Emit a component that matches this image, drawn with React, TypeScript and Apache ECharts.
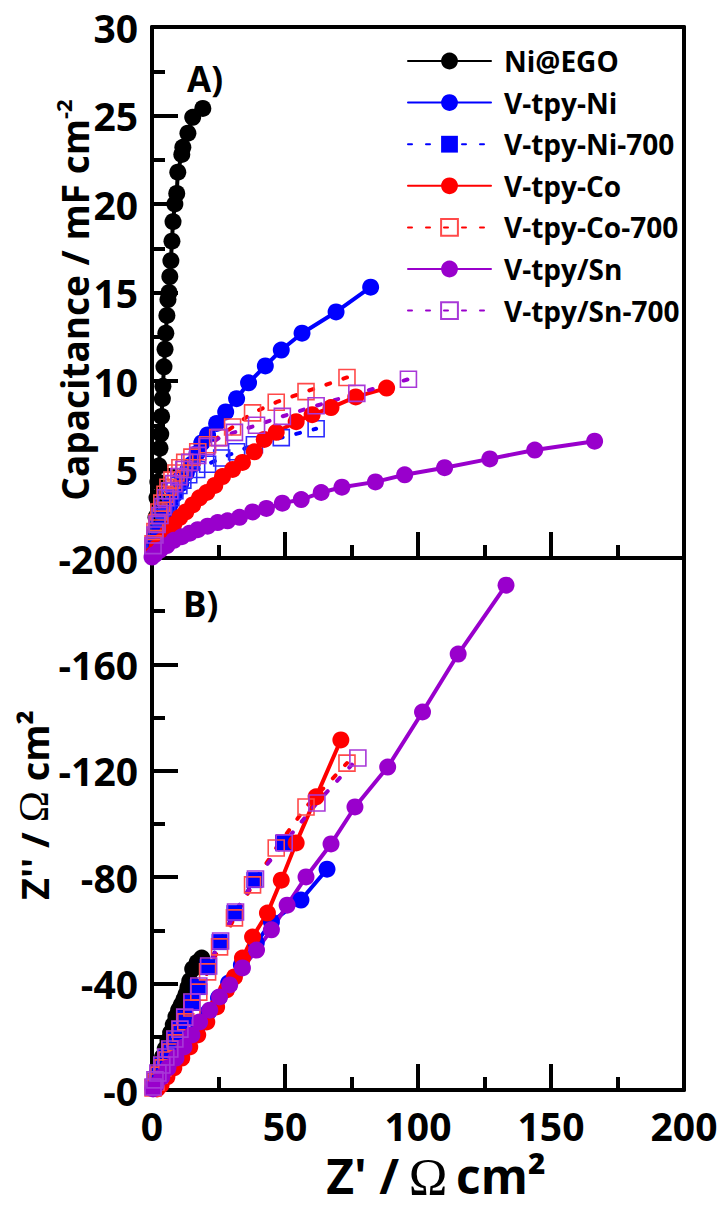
import React, { useEffect, useRef } from "react";
import * as echarts from "echarts";

// ---------- axes ----------
const zPrimeTicks = [0, 50, 100, 150, 200];
const capTicks = [0, 5, 10, 15, 20, 25, 30];
const zImagTicks = [-200, -160, -120, -80, -40, 0];

// ---------- series names ----------
const seriesNames = [
  "Ni@EGO",
  "V-tpy-Ni",
  "V-tpy-Ni-700",
  "V-tpy-Co",
  "V-tpy-Co-700",
  "V-tpy/Sn",
  "V-tpy/Sn-700",
];

// ---------- panel A: capacitance (x = Z', y = mF cm-2) ----------
const niEgoCap = [[0.4,0.6],[1.0,1.4],[1.5,2.3],[1.9,3.4],[2.2,4.3],[2.6,5.2],[3.0,6.2],[3.3,7.0],[3.6,8.0],[3.9,9.0],[4.1,9.7],[4.5,10.8],[4.9,11.8],[5.2,12.7],[5.6,13.7],[6.0,14.6],[6.4,15.0],[6.7,15.9],[7.1,16.8],[7.5,17.9],[7.9,19.0],[8.6,20.0],[9.3,20.6],[9.7,21.8],[11.2,22.8],[11.6,23.2],[13.5,24.0],[15.3,24.9],[19.1,25.4]];
const vtpyNiCap = [[0.4,0.4],[1.5,1.0],[3.0,1.7],[4.9,2.4],[6.7,3.0],[8.6,3.6],[10.8,4.2],[12.9,4.8],[15.0,5.3],[16.9,5.9],[18.7,6.5],[20.9,6.95],[24.3,7.6],[27.7,8.25],[31.8,9.0],[36.3,9.9],[42.6,10.85],[48.6,11.75],[56.4,12.7],[69.2,13.9],[82.2,15.3]];
const vtpyNi700Cap = [[0.4,0.6],[1.1,1.0],[1.9,1.5],[2.6,1.9],[3.4,2.3],[4.5,2.7],[5.6,3.1],[7.1,3.4],[8.6,3.8],[10.1,4.1],[11.6,4.4],[13.8,4.7],[16.8,5.0],[20.9,5.3],[26.2,5.65],[31.8,6.0],[38.5,6.4],[48.6,6.8],[61.7,7.3]];
const vtpyCoCap = [[0.4,0.2],[1.9,0.6],[4.1,1.0],[6.0,1.5],[8.2,1.9],[10.5,2.3],[12.7,2.6],[15.3,3.0],[17.9,3.4],[20.6,3.7],[23.6,4.1],[26.5,4.6],[30.3,5.0],[34.0,5.4],[38.5,6.0],[42.2,6.7],[46.7,7.1],[54.2,7.7],[60.2,8.1],[67.3,8.5],[76.6,9.1],[88.2,9.6]];
const vtpyCo700Cap = [[0.4,0.8],[1.1,1.5],[1.9,2.0],[2.6,2.6],[3.7,3.1],[4.9,3.6],[6.0,4.0],[7.5,4.4],[9.0,4.8],[10.5,5.1],[12.3,5.4],[15.0,5.7],[17.2,6.0],[20.9,6.4],[24.7,6.8],[30.3,7.4],[37.8,8.2],[46.7,8.8],[57.9,9.4],[73.3,10.2]];
const vtpySnCap = [[0.0,0.05],[1.1,0.2],[3.0,0.45],[5.6,0.7],[8.2,1.0],[11.2,1.2],[14.2,1.4],[17.2,1.6],[20.9,1.8],[24.7,2.0],[28.4,2.1],[32.9,2.3],[37.8,2.6],[43.0,2.8],[49.0,3.1],[56.1,3.3],[63.6,3.7],[71.4,4.0],[84.0,4.3],[95.0,4.7],[110.0,5.1],[127.0,5.6],[143.9,6.1],[166.4,6.6]];
const vtpySn700Cap = [[0.4,0.7],[1.1,1.3],[1.9,1.9],[3.0,2.4],[4.1,2.9],[5.2,3.4],[6.7,3.8],[8.2,4.2],[10.1,4.6],[12.0,5.0],[14.2,5.4],[17.2,5.8],[20.6,6.3],[25.4,6.8],[31.0,7.1],[39.3,7.5],[49.0,8.0],[61.7,8.6],[77.0,9.3],[96.4,10.1]];

// ---------- panel B: Nyquist (x = Z', y = Z'') ----------
const niEgoNyq = [[0.5,-1.5],[1.2,-4],[2.0,-6.5],[3.0,-9.5],[4.0,-12.5],[5.0,-15.5],[6.0,-18.5],[7.0,-21.5],[8.0,-24.5],[9.0,-27.5],[10.0,-30],[11.0,-32],[12.0,-34],[12.8,-36],[13.5,-38.5],[14.2,-41],[15.3,-45.5],[17.0,-48],[18.7,-49.6]];
const vtpyNiNyq = [[0.4,-0.8],[1.5,-2.6],[3.4,-5.3],[6.0,-8.6],[8.6,-12],[11.6,-15.8],[14.6,-19.9],[17.6,-24.4],[21.2,-29.3],[25.0,-34.6],[28.8,-40.2],[33.6,-47],[39.2,-55.3],[44.9,-63.2],[56.0,-71.4],[65.8,-83]];
const vtpyNi700Nyq = [[0.4,-1.1],[1.1,-3.4],[2.2,-6],[3.7,-9],[5.2,-12],[6.7,-15],[8.6,-18.8],[10.5,-22.6],[12.3,-27],[15.0,-32.7],[17.2,-38.7],[20.9,-46.2],[25.4,-55.6],[31.0,-66.5],[38.5,-78.9],[49.3,-92.9]];
const vtpyCoNyq = [[1.9,-0.4],[3.4,-1.9],[5.6,-4.9],[8.2,-8.3],[11.2,-12],[14.2,-16.2],[17.2,-20.7],[20.6,-25.6],[24.3,-31.2],[28.0,-37.6],[31.0,-42.5],[34.0,-49.6],[37.8,-57.5],[43.4,-66.5],[48.6,-78.9],[54.2,-92.9],[61.7,-110.2],[71.0,-131.6]];
const vtpyCo700Nyq = [[0.4,-0.8],[1.5,-3],[2.6,-5.6],[4.1,-8.3],[5.6,-11.3],[7.1,-14.3],[9.0,-17.7],[10.8,-21.4],[12.7,-25.6],[15.0,-30.8],[17.6,-36.8],[20.9,-44.4],[25.4,-53.8],[31.0,-64.7],[37.8,-77.1],[46.7,-91],[57.9,-106.4],[73.3,-122.9]];
const vtpySnNyq = [[0.4,-0.4],[1.5,-1.9],[3.7,-4.9],[6.0,-8.3],[9.0,-12],[12.0,-16.2],[15.0,-20.7],[17.9,-25.6],[21.7,-30],[25.4,-35],[29.2,-39.5],[34.0,-45.9],[39.3,-52.6],[44.9,-60.2],[50.8,-69.5],[57.9,-80.1],[67.3,-92.5],[76.3,-106.4],[88.6,-121.4],[101.7,-142.1],[115.1,-163.9],[133.1,-189.8]];
const vtpySn700Nyq = [[0.4,-1.1],[1.1,-3.8],[2.2,-6.4],[3.7,-9.4],[5.2,-12.4],[6.7,-15.4],[8.6,-19.2],[10.5,-22.9],[12.3,-27.4],[15.0,-33.1],[17.6,-39.1],[21.3,-46.6],[25.8,-56],[31.4,-66.9],[38.9,-79.3],[49.7,-92.9],[62.0,-107.9],[77.4,-124.8]];

const capData = [niEgoCap, vtpyNiCap, vtpyNi700Cap, vtpyCoCap, vtpyCo700Cap, vtpySnCap, vtpySn700Cap];
const nyqData = [niEgoNyq, vtpyNiNyq, vtpyNi700Nyq, vtpyCoNyq, vtpyCo700Nyq, vtpySnNyq, vtpySn700Nyq];

// ---------- styles ----------
const FONT = "'Open Sans', 'Liberation Sans', sans-serif";
const SERIF = "'Liberation Serif', 'DejaVu Serif', serif";
const lineColors = ["#000000", "#0000ff", "#0000ff", "#ff0000", "#ff0000", "#9900cc", "#9900cc"];
const borderColors = ["#000000", "#0000ff", "#2a2aff", "#ff4a4a", "#ff4a4a", "#a838d8", "#a838d8"];
const dashed = [false, false, true, false, true, false, true];
const symbols = ["circle", "circle", "rect", "circle", "rect", "circle", "rect"];
// hollow markers: [panel B, panel A]
const hollowB = [false, false, false, false, true, false, true];
const hollowA = [false, false, true, false, true, false, true];

function makeSeries(i: number, grid: number, data: number[][], hollow: boolean) {
  return {
    type: "line",
    name: seriesNames[i],
    xAxisIndex: grid,
    yAxisIndex: grid,
    data,
    symbol: symbols[i],
    symbolSize: symbols[i] === "rect" ? 16 : 17,
    showSymbol: true,
    clip: false,
    lineStyle: {
      color: lineColors[i],
      width: 4,
      type: dashed[i] ? [4, 14] : "solid",
      cap: "round",
    },
    itemStyle: hollow
      ? { color: "rgba(255,255,255,0)", borderColor: borderColors[i], borderWidth: 1.6 }
      : { color: lineColors[i], borderWidth: 0 },
    emphasis: { disabled: true },
  };
}

const axisLine = { show: true, onZero: false, lineStyle: { color: "#000", width: 4 } };
const tick = { show: true, inside: true, length: 26, lineStyle: { color: "#000", width: 4 } };
const minor = { show: true, splitNumber: 2, length: 13, lineStyle: { color: "#000", width: 4 } };
const tickLabel = { fontFamily: FONT, fontWeight: "bold", fontSize: 39, color: "#000" };

function txt(x: number, y: number, text: string, size: number, align: string, serif = false) {
  return {
    type: "text", x, y,
    style: {
      text, fontFamily: serif ? SERIF : FONT, fontWeight: serif ? "normal" : "bold",
      fontSize: size, fill: "#000", align, verticalAlign: "middle",
    },
  };
}

export default function App() {
  const ref = useRef<HTMLDivElement>(null);
  useEffect(() => {
    const chart = echarts.init(ref.current!, null, { renderer: "svg" });
    const xMin = zPrimeTicks[0];
    const xMax = zPrimeTicks[zPrimeTicks.length - 1];
    const xStep = zPrimeTicks[1] - zPrimeTicks[0];
    const option: any = {
      animation: false,
      backgroundColor: "#ffffff",
      grid: [
        { left: 152, top: 27, width: 532, height: 531 },
        { left: 152, top: 558, width: 532, height: 532 },
      ],
      xAxis: [
        {
          gridIndex: 0, type: "value", position: "bottom", min: xMin, max: xMax, interval: xStep,
          axisLine, axisTick: tick, minorTick: minor, axisLabel: { show: false }, splitLine: { show: false },
        },
        {
          gridIndex: 1, type: "value", position: "bottom", min: xMin, max: xMax, interval: xStep,
          axisLine, axisTick: tick, minorTick: minor,
          axisLabel: { ...tickLabel, margin: 16 }, splitLine: { show: false },
        },
        {
          gridIndex: 0, type: "value", position: "top", min: 0, max: 1,
          axisLine, axisTick: { show: false }, axisLabel: { show: false }, splitLine: { show: false },
        },
        {
          gridIndex: 1, type: "value", position: "top", min: 0, max: 1,
          axisLine: { show: true, onZero: false, lineStyle: { color: "#999", width: 1 } },
          axisTick: { show: false }, axisLabel: { show: false }, splitLine: { show: false }, z: -1,
        },
      ],
      yAxis: [
        {
          gridIndex: 0, type: "value", position: "left",
          min: capTicks[0], max: capTicks[capTicks.length - 1], interval: capTicks[1] - capTicks[0],
          axisLine, axisTick: tick, minorTick: minor, splitLine: { show: false },
          axisLabel: { ...tickLabel, margin: 14, formatter: (v: number) => (v === 0 ? "" : String(v)) },
        },
        {
          gridIndex: 1, type: "value", position: "left", inverse: true,
          min: zImagTicks[0], max: zImagTicks[zImagTicks.length - 1], interval: zImagTicks[1] - zImagTicks[0],
          axisLine, axisTick: tick, minorTick: minor, splitLine: { show: false },
          axisLabel: { ...tickLabel, margin: 14, formatter: (v: number) => (v === 0 ? "-0" : String(v)) },
        },
        {
          gridIndex: 0, type: "value", position: "right", min: 0, max: 1,
          axisLine, axisTick: { show: false }, axisLabel: { show: false }, splitLine: { show: false },
        },
        {
          gridIndex: 1, type: "value", position: "right", min: 0, max: 1,
          axisLine, axisTick: { show: false }, axisLabel: { show: false }, splitLine: { show: false },
        },
      ],
      legend: {
        data: seriesNames,
        orient: "vertical",
        left: 407,
        top: 46,
        padding: 0,
        itemWidth: 83,
        itemHeight: 21,
        itemGap: 11.6,
        selectedMode: false,
        textStyle: {
          fontFamily: FONT, fontWeight: "bold", fontSize: 28, color: "#000",
          lineHeight: 30, padding: [0, 0, 0, 8],
        },
      },
      graphic: [
        txt(187, 78, "A)", 35, "left"),
        txt(183, 603, "B)", 35, "left"),
        {
          type: "text", x: 74, y: 300, rotation: Math.PI / 2,
          style: {
            text: "{a|Capacitance / mF cm}{s|-2}",
            align: "center", verticalAlign: "middle",
            rich: {
              a: { fontFamily: FONT, fontWeight: "bold", fontSize: 37, fill: "#000", lineHeight: 44 },
              s: { fontFamily: FONT, fontWeight: "bold", fontSize: 22, fill: "#000", lineHeight: 26, verticalAlign: "top" },
            },
          },
        },
        {
          type: "text", x: 34, y: 805, rotation: Math.PI / 2,
          style: {
            text: "{a|Z'' / }{o|Ω}{a| cm²}",
            align: "center", verticalAlign: "middle",
            rich: {
              a: { fontFamily: FONT, fontWeight: "bold", fontSize: 38, fill: "#000", lineHeight: 44 },
              o: { fontFamily: SERIF, fontWeight: "normal", fontSize: 42, fill: "#000", lineHeight: 44 },
            },
          },
        },
        txt(399, 1175, "Z' /", 48, "right"),
        txt(428, 1177, "Ω", 52, "center", true),
        txt(456, 1175, "cm²", 48, "left"),
      ],
      series: [
        ...nyqData.map((d, i) => makeSeries(i, 1, d, hollowB[i])),
        ...capData.map((d, i) => makeSeries(i, 0, d, hollowA[i])),
      ],
    };
    chart.setOption(option);
    return () => chart.dispose();
  }, []);
  return <div ref={ref} style={{ position: "absolute", left: 0, top: 0, width: 722, height: 1210 }} />;
}
